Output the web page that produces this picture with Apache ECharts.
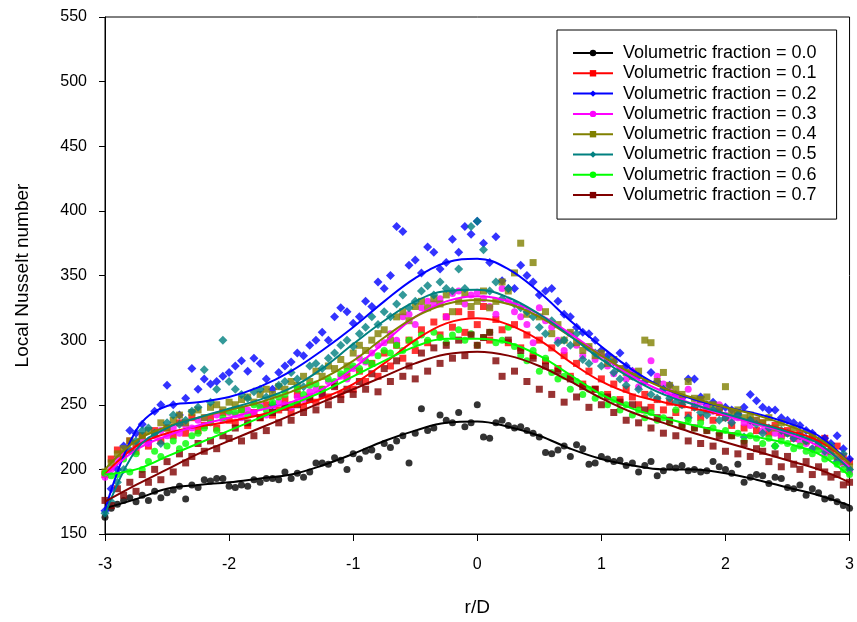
<!DOCTYPE html>
<html>
<head>
<meta charset="utf-8">
<script src="https://cdn.jsdelivr.net/npm/echarts@6/dist/echarts.min.js"></script>
<style>html,body{margin:0;padding:0;background:#fff}#c{width:857px;height:622px}</style>
</head>
<body>
<div id="c"></div>
<script>
// sample positions r/D
const xPts = [-3.00,-2.95,-2.90,-2.85,-2.80,-2.75,-2.70,-2.65,-2.60,-2.55,-2.50,-2.45,-2.40,-2.35,-2.30,-2.25,-2.20,-2.15,-2.10,-2.05,
-2.00,-1.95,-1.90,-1.85,-1.80,-1.75,-1.70,-1.65,-1.60,-1.55,-1.50,-1.45,-1.40,-1.35,-1.30,-1.25,-1.20,-1.15,-1.10,-1.05,
-1.00,-0.95,-0.90,-0.85,-0.80,-0.75,-0.70,-0.65,-0.60,-0.55,-0.50,-0.45,-0.40,-0.35,-0.30,-0.25,-0.20,-0.15,-0.10,-0.05,
0.00,0.05,0.10,0.15,0.20,0.25,0.30,0.35,0.40,0.45,0.50,0.55,0.60,0.65,0.70,0.75,0.80,0.85,0.90,0.95,
1.00,1.05,1.10,1.15,1.20,1.25,1.30,1.35,1.40,1.45,1.50,1.55,1.60,1.65,1.70,1.75,1.80,1.85,1.90,1.95,
2.00,2.05,2.10,2.15,2.20,2.25,2.30,2.35,2.40,2.45,2.50,2.55,2.60,2.65,2.70,2.75,2.80,2.85,2.90,2.95,3.00];

const names = ['Volumetric fraction = 0.0','Volumetric fraction = 0.1','Volumetric fraction = 0.2','Volumetric fraction = 0.3',
'Volumetric fraction = 0.4','Volumetric fraction = 0.5','Volumetric fraction = 0.6','Volumetric fraction = 0.7'];

const pts00 = [163,170,173,176,178,175,180,176,183,178,182,184,187,177,188,186,192,191,193,193,
187,186,188,187,192,190,193,193,192,198,193,197,194,198,205,205,204,209,207,200,
212,208,214,215,210,220,217,222,226,205,228,247,230,232,242,238,236,244,233,236,
250,225,224,236,238,234,232,233,230,228,225,213,212,215,218,210,219,216,204,205,
210,208,206,207,203,205,198,203,206,195,199,202,201,203,199,200,198,199,206,202,
200,197,204,190,194,196,195,189,194,193,186,185,188,180,185,182,177,178,175,172,170];
const pts01 = [196,208,215,212,222,214,226,218,230,222,232,226,236,228,240,230,234,240,232,244,
238,236,246,234,244,240,250,242,246,254,244,258,248,256,252,262,256,266,258,272,
262,276,268,282,272,290,280,296,286,300,292,308,298,314,304,318,310,322,306,320,
312,326,300,316,308,298,312,294,304,288,300,284,294,278,288,272,282,266,276,262,
270,258,266,254,262,256,250,258,248,254,246,252,244,250,242,248,240,246,238,244,
240,234,242,232,238,230,236,228,234,226,230,224,228,222,226,220,224,214,218,210,206];
const pts02 = [168,185,200,218,230,228,235,222,245,250,265,250,242,255,278,262,270,266,268,272,
275,280,284,276,286,282,270,262,275,280,283,290,288,296,300,306,300,318,325,322,
313,318,330,326,345,340,350,388,384,358,362,352,372,368,355,360,378,368,388,382,
392,375,360,380,346,340,340,358,350,345,335,338,340,330,320,318,310,306,305,300,
292,288,283,290,280,276,272,268,275,268,262,265,258,255,270,270,256,250,252,247,
248,246,243,248,258,253,248,246,246,240,238,236,234,230,228,222,224,220,226,216,208];
const pts03 = [194,200,208,212,214,218,222,220,226,230,226,232,228,234,232,238,240,236,242,238,
244,242,240,246,244,250,242,248,252,250,248,256,254,260,262,258,268,265,272,270,
278,286,283,290,296,298,305,300,318,320,312,325,330,328,332,318,336,338,328,335,
337,332,326,320,340,330,322,318,312,298,325,315,310,300,292,305,296,288,294,285,
288,280,274,278,270,276,264,268,284,272,266,260,258,255,262,250,252,248,245,250,
242,238,240,236,234,238,230,232,228,226,228,224,222,220,216,218,212,214,208,204,198];
const pts04 = [198,205,212,216,222,220,226,230,228,236,232,238,242,236,244,246,240,248,250,246,
252,250,254,256,252,258,262,258,264,262,268,265,272,268,276,272,280,278,285,280,
290,296,292,300,305,308,300,318,322,315,326,330,325,332,328,335,322,330,336,326,
330,338,325,330,345,338,352,375,320,360,318,322,305,312,300,306,298,292,295,288,
290,282,285,278,275,272,276,300,298,268,275,265,262,258,268,255,254,256,250,248,
264,244,246,240,242,238,236,240,232,236,228,232,226,222,224,218,220,214,210,206,202];
const pts05 = [166,175,190,200,215,222,230,232,228,220,236,242,235,238,245,248,277,252,262,300,
268,262,258,255,260,262,256,250,265,268,275,270,264,280,282,278,286,290,296,300,
295,305,310,318,312,322,318,328,335,325,330,338,342,335,345,340,338,355,340,388,
392,370,338,345,332,340,328,325,322,318,310,305,315,298,300,296,305,285,282,290,
280,285,275,270,265,272,262,268,258,255,262,255,252,250,240,248,244,242,246,238,
240,236,242,225,238,235,228,232,218,230,228,224,226,222,216,220,214,218,206,212,200];
const pts06 = [197,195,196,208,198,212,200,206,214,210,218,222,216,220,226,228,232,236,230,240,
245,244,246,242,250,248,246,252,256,258,250,262,258,265,266,262,270,268,274,276,
280,278,284,282,288,292,290,296,292,300,298,304,300,306,302,298,304,308,300,305,
296,302,306,298,300,310,295,288,284,292,276,286,275,270,272,262,268,258,262,255,
258,250,254,246,250,242,246,240,244,238,240,236,246,234,238,232,236,230,232,228,
230,226,228,222,226,224,220,224,218,222,220,216,218,214,212,215,208,210,204,200,196];
const pts07 = [176,172,185,180,190,183,196,190,200,192,206,198,212,205,210,220,214,222,216,226,
224,232,222,236,226,240,230,244,236,248,238,250,244,254,246,258,250,264,254,262,
258,268,262,274,260,278,268,284,272,280,270,290,276,294,282,296,286,300,288,304,
296,302,306,284,272,300,276,292,268,286,262,280,258,276,252,270,256,264,248,262,
250,256,244,252,238,250,236,246,232,240,228,238,226,234,222,232,220,230,218,226,
214,226,212,220,210,216,214,206,212,202,210,204,200,206,196,202,198,194,196,188,190];

// fitted curves
const xFit = [-3,-2.75,-2.5,-2.25,-2,-1.75,-1.5,-1.25,-1,-0.75,-0.5,-0.25,0,0.25,0.5,0.75,1,1.25,1.5,1.75,2,2.25,2.5,2.75,3];
const fit00 = [170,177,185,188,190,193,196,203,212,222,230,236,237,233,226,216,208,203,200,200,197,192,186,180,172];
const fit01 = [196,218,228,233,237,242,248,255,266,282,300,313,317,312,300,283,268,258,252,247,242,236,230,222,205];
const fit02 = [168,230,249,252,256,264,276,292,310,330,348,360,363,355,337,315,295,277,263,254,248,243,236,226,205];
const fit03 = [195,215,226,234,240,246,252,262,278,298,318,330,334,330,320,305,288,272,260,250,242,235,228,218,202];
const fit04 = [200,222,233,240,246,252,260,270,284,302,318,328,331,328,318,303,288,274,263,255,248,242,234,224,205];
const fit05 = [165,215,232,240,247,254,263,278,297,315,330,338,339,333,320,303,285,270,258,250,243,236,229,220,200];
const fit06 = [196,200,210,220,230,240,250,260,272,284,295,301,301,298,288,273,258,247,240,234,229,225,220,212,195];
const fit07 = [175,188,200,212,222,232,242,252,262,272,282,289,291,288,280,268,255,244,236,228,221,214,207,200,190];

const colors = ['#000000','#ff0000','#0000ff','#ff00ff','#808000','#008080','#00ff00','#800000'];
const symbols = ['circle','rect','diamond','circle','rect','diamond','circle','rect'];
const ptsAll = [pts00,pts01,pts02,pts03,pts04,pts05,pts06,pts07];
const fitAll = [fit00,fit01,fit02,fit03,fit04,fit05,fit06,fit07];

const series = [];
for (let s = 0; s < 8; s++) {
  series.push({
    name: names[s], type: 'line', smooth: 0.4, z: 4,
    symbol: symbols[s], symbolSize: symbols[s]==='diamond'?8:6, showSymbol: false,
    itemStyle: {color: colors[s]},
    lineStyle: {color: colors[s], width: 2},
    data: xFit.map((x, i) => [x, fitAll[s][i]])
  });
}
for (let s = 0; s < 8; s++) {
  series.push({
    name: names[s], type: 'scatter', z: 2,
    symbol: symbols[s], symbolSize: symbols[s]==='diamond'?9:7,
    itemStyle: {color: colors[s]},
    data: xPts.map((x, i) => [x, ptsAll[s][i]])
  });
}

const chart = echarts.init(document.getElementById('c'), null, {renderer: 'canvas'});
chart.setOption({
  animation: false,
  textStyle: {fontFamily: 'Liberation Sans, Arial, sans-serif'},
  grid: {left: 105, right: 6, top: 17, bottom: 84, show: true, borderColor: '#000', borderWidth: 1},
  legend: {
    data: names, orient: 'vertical', left: 557, top: 30,
    padding: [13, 20, 14, 15], itemGap: 0.3, itemWidth: 40, itemHeight: 8,
    borderColor: '#000', borderWidth: 1, backgroundColor: '#fff',
    textStyle: {fontSize: 18, color: '#000', fontFamily: 'Liberation Sans, Arial, sans-serif', lineHeight: 20, padding: [0, 0, 0, 5]},
    selectedMode: false
  },
  xAxis: {
    type: 'value', min: -3, max: 3, interval: 1,
    name: 'r/D', nameLocation: 'middle', nameGap: 64,
    nameTextStyle: {fontSize: 19, color: '#000'},
    axisLine: {onZero: false, lineStyle: {color: '#000', width: 1}},
    axisTick: {length: 7, lineStyle: {color: '#000'}},
    axisLabel: {fontSize: 16, color: '#000', margin: 23},
    splitLine: {show: false}
  },
  yAxis: {
    type: 'value', min: 150, max: 550, interval: 50,
    name: 'Local Nusselt number', nameLocation: 'middle', nameGap: 73,
    nameTextStyle: {fontSize: 19, color: '#000'},
    axisLine: {show: true, onZero: false, lineStyle: {color: '#000', width: 1}},
    axisTick: {show: true, length: 6, lineStyle: {color: '#000'}},
    axisLabel: {fontSize: 16, color: '#000', margin: 18},
    splitLine: {show: false}
  },
  series: series
});
</script>
</body>
</html>
